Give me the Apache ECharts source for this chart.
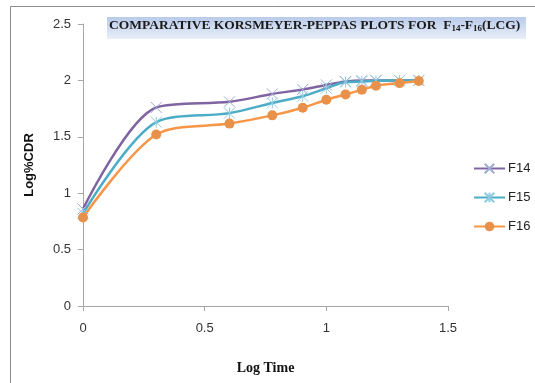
<!DOCTYPE html>
<html>
<head>
<meta charset="utf-8">
<script src="https://cdn.jsdelivr.net/npm/echarts@6/dist/echarts.min.js"></script>
<style>html,body{margin:0;padding:0;background:#fff}#c{width:535px;height:383px}</style>
</head>
<body>
<div id="c"></div>
<script>
const logTime = [0, 0.301, 0.602, 0.778, 0.903, 1.0, 1.079, 1.146, 1.204, 1.301, 1.380];
const f14 = [0.86, 1.76, 1.81, 1.88, 1.92, 1.96, 1.99, 2.0, 2.0, 2.0, 2.0];
const f15 = [0.82, 1.63, 1.71, 1.80, 1.86, 1.93, 1.985, 1.99, 1.997, 2.0, 2.0];
const f16 = [0.785, 1.52, 1.617, 1.69, 1.758, 1.829, 1.876, 1.917, 1.953, 1.976, 1.994];
const seriesNames = ['F14', 'F15', 'F16'];
const xTicks = [0, 0.5, 1, 1.5];
const yTicks = [0, 0.5, 1, 1.5, 2, 2.5];

const chart = echarts.init(document.getElementById('c'), null, {renderer: 'canvas'});
const pairs = arr => logTime.map((x, i) => [x, arr[i]]);
const crossPath = 'path://M0,0L10,10M10,0L0,10';
const starPath = 'path://M0,0L10,10M10,0L0,10M5,0L5,10';

chart.setOption({
  animation: false,
  graphic: [
    {type: 'rect', shape: {x: 10.5, y: 6.5, width: 540, height: 400},
     style: {fill: 'none', stroke: '#8c8c8c', lineWidth: 1}, z: -1},
    {type: 'rect', shape: {x: 107, y: 17, width: 419, height: 22},
     style: {fill: new echarts.graphic.LinearGradient(0, 0, 0, 1, [
       {offset: 0, color: '#b9cbea'}, {offset: 1, color: '#e9eff9'}])}, z: 1},
    {type: 'text', left: 109, top: 19, z: 2,
     style: {
       text: '{t|COMPARATIVE KORSMEYER-PEPPAS PLOTS FOR  F}{s|14}{t|-F}{s|16}{t|(LCG)}',
       rich: {
         t: {fontFamily: 'Liberation Serif', fontWeight: 'bold', fontSize: 13.5, fill: '#1a1a1a', verticalAlign: 'bottom'},
         s: {fontFamily: 'Liberation Serif', fontWeight: 'bold', fontSize: 9, fill: '#1a1a1a', padding: [6, 0, 0, 0], verticalAlign: 'bottom'}
       }
     }}
  ],
  grid: {left: 83, right: 87, top: 24, bottom: 77},
  legend: {
    orient: 'vertical', left: 468, top: 157, itemGap: 16, padding: 5,
    itemWidth: 31, itemHeight: 12,
    textStyle: {fontFamily: 'Liberation Sans', fontSize: 13, color: '#222', padding: [0, 0, 0, -2]},
    data: seriesNames
  },
  xAxis: {
    type: 'value', min: 0, max: 1.5, interval: 0.5,
    name: 'Log Time', nameLocation: 'middle', nameGap: 55,
    nameTextStyle: {fontFamily: 'Liberation Serif', fontWeight: 'bold', fontSize: 14, color: '#111'},
    axisLine: {lineStyle: {color: '#a6a6a6'}},
    axisTick: {show: true, length: 5, lineStyle: {color: '#a6a6a6'}},
    axisLabel: {fontFamily: 'Liberation Sans', fontSize: 13, color: '#333', margin: 16,
      formatter: v => xTicks.includes(v) ? String(v) : ''},
    splitLine: {show: false}
  },
  yAxis: {
    type: 'value', min: 0, max: 2.5, interval: 0.5,
    name: 'Log%CDR', nameLocation: 'middle', nameGap: 47,
    nameTextStyle: {fontFamily: 'Liberation Sans', fontWeight: 'bold', fontSize: 13, color: '#111'},
    axisLine: {show: true, lineStyle: {color: '#a6a6a6'}},
    axisTick: {show: true, length: 5, lineStyle: {color: '#a6a6a6'}},
    axisLabel: {fontFamily: 'Liberation Sans', fontSize: 13, color: '#333', margin: 12,
      formatter: v => yTicks.includes(v) ? String(v) : ''},
    splitLine: {show: false}
  },
  series: [
    {name: 'F14', type: 'line', data: pairs(f14), smooth: 0.3,
     symbol: crossPath, symbolSize: 11, z: 3,
     lineStyle: {color: '#8064a2', width: 2.5},
     itemStyle: {color: '#8064a2', borderColor: '#9eaad6', borderWidth: 1}},
    {name: 'F15', type: 'line', data: pairs(f15), smooth: 0.3,
     symbol: starPath, symbolSize: 11, z: 3,
     lineStyle: {color: '#4bacc6', width: 2.5},
     itemStyle: {color: '#4bacc6', borderColor: '#8fcbe0', borderWidth: 1}},
    {name: 'F16', type: 'line', data: pairs(f16), smooth: 0.3,
     symbol: 'circle', symbolSize: 10, z: 3,
     lineStyle: {color: '#f79646', width: 2.5},
     itemStyle: {color: '#e8914a', borderWidth: 0}}
  ]
});
</script>
</body>
</html>
